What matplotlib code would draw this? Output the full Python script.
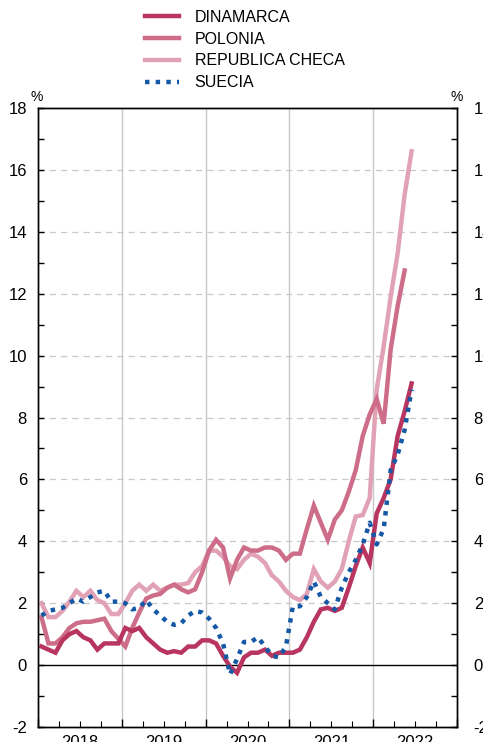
import matplotlib
matplotlib.use("Agg")
import matplotlib.pyplot as plt

plt.rcParams['font.family'] = ['Liberation Sans', 'DejaVu Sans']
plt.rcParams['axes.unicode_minus'] = False

# monthly HICP year-on-year rates, Jan 2018 onwards
years = ['2018', '2019', '2020', '2021', '2022']

dinamarca = [0.6, 0.5, 0.4, 0.8, 1.0, 1.1, 0.9, 0.8, 0.5, 0.7, 0.7, 0.7,
             1.2, 1.1, 1.2, 0.9, 0.7, 0.5, 0.4, 0.45, 0.4, 0.6, 0.6, 0.8,
             0.8, 0.7, 0.3, -0.05, -0.25, 0.25, 0.4, 0.4, 0.5, 0.3, 0.4, 0.4,
             0.4, 0.5, 0.9, 1.4, 1.8, 1.85, 1.75, 1.85, 2.5, 3.2, 3.8, 3.3,
             4.9, 5.4, 6.0, 7.4, 8.2, 9.1]

polonia = [1.55, 0.7, 0.7, 0.9, 1.2, 1.35, 1.4, 1.4, 1.45, 1.5, 1.1, 0.85,
           0.6, 1.2, 1.7, 2.15, 2.25, 2.3, 2.5, 2.6, 2.45, 2.35, 2.45, 3.0,
           3.7, 4.05, 3.8, 2.8, 3.4, 3.8, 3.7, 3.7, 3.8, 3.8, 3.7, 3.4,
           3.6, 3.6, 4.4, 5.15, 4.6, 4.05, 4.7, 5.0, 5.6, 6.3, 7.4, 8.1,
           8.6, 7.8, 10.2, 11.6, 12.75]

rep_checa = [2.0, 1.55, 1.55, 1.75, 2.05, 2.4, 2.2, 2.4, 2.1, 2.0, 1.65, 1.65,
             2.0, 2.4, 2.6, 2.4, 2.6, 2.4, 2.5, 2.6, 2.6, 2.65, 3.0, 3.2,
             3.7, 3.7, 3.5, 3.2, 3.1, 3.4, 3.6, 3.5, 3.3, 2.9, 2.7, 2.4,
             2.2, 2.1, 2.3, 3.1, 2.7, 2.5, 2.7, 3.1, 4.0, 4.8, 4.85, 5.4,
             8.9, 10.3, 11.9, 13.3, 15.2, 16.6]

suecia = [1.6, 1.75, 1.8, 1.85, 2.0, 2.15, 2.05, 2.2, 2.35, 2.4, 2.05, 2.05,
          2.0, 1.8, 1.85, 2.1, 1.8, 1.6, 1.4, 1.3, 1.35, 1.6, 1.75, 1.7,
          1.5, 1.2, 0.7, -0.3, 0.2, 0.75, 0.75, 0.9, 0.6, 0.3, 0.25, 0.6,
          1.9, 1.9, 2.2, 2.7, 2.2, 2.0, 1.8, 2.5, 3.0, 3.4, 3.9, 4.6,
          3.9, 4.4, 6.3, 6.8, 7.6, 8.9]

c_dk = '#b8355f'
c_pl = '#cd6d8a'
c_cz = '#e2a2b6'
c_se = '#1558a6'

fig = plt.figure(figsize=(4.83, 7.42), dpi=100)
ax = fig.add_axes([38 / 483, 15 / 742, 419 / 483, 619 / 742])

def xs(vals):
    return [i + 0.5 for i in range(len(vals))]

ax.axhline(0, color='black', lw=1.0, zorder=2)
l_cz, = ax.plot(xs(rep_checa), rep_checa, color=c_cz, lw=3.2, zorder=3, solid_joinstyle='miter')
l_pl, = ax.plot(xs(polonia), polonia, color=c_pl, lw=3.2, zorder=4, solid_joinstyle='miter')
l_dk, = ax.plot(xs(dinamarca), dinamarca, color=c_dk, lw=3.2, zorder=5, solid_joinstyle='miter')
l_se, = ax.plot(xs(suecia), suecia, color=c_se, lw=3.2, ls=(0, (1, 1.4)), zorder=6)

ax.set_xlim(0, 60)
ax.set_ylim(-2, 18)

# grid
for v in range(2, 18, 2):
    ax.axhline(v, color='#c8c8c8', lw=0.9, ls=(0, (5, 4)), zorder=1)
for k in range(12, 60, 12):
    ax.axvline(k, color='#c8c8c8', lw=1.0, zorder=1)

# x ticks
ax.set_xticks(range(0, 61, 12))
ax.set_xticklabels([])
ax.set_xticks(range(0, 61, 3), minor=True)
ax.set_xticklabels(['' if m % 12 != 6 else years[m // 12] for m in range(0, 61, 3)], minor=True)
ax.tick_params(axis='x', which='major', direction='in', length=6, width=1)
ax.tick_params(axis='x', which='minor', direction='in', length=4, width=0.8, labelsize=12, pad=6)

# y ticks both sides
ax.set_yticks(range(-2, 19, 2))
ax.set_yticks(range(-1, 18, 2), minor=True)
ax.tick_params(axis='y', which='both', direction='in', length=4, width=1, labelsize=12, pad=8)
ax2 = ax.twinx()
ax2.set_ylim(ax.get_ylim())
ax2.set_yticks(range(-2, 19, 2))
ax2.set_yticks(range(-1, 18, 2), minor=True)
ax2.tick_params(axis='y', which='both', direction='in', length=4, width=1, labelsize=12, pad=12)
for a in (ax, ax2):
    for s in a.spines.values():
        s.set_linewidth(1.0)

fig.text(37 / 483, 1 - 104 / 742, '%', ha='center', va='bottom', fontsize=10)
fig.text(457 / 483, 1 - 104 / 742, '%', ha='center', va='bottom', fontsize=10)

fig.legend([l_dk, l_pl, l_cz, l_se],
           ['DINAMARCA', 'POLONIA', 'REPUBLICA CHECA', 'SUECIA'],
           loc='upper left', bbox_to_anchor=(145 / 483, 1 - 10 / 742),
           frameon=False, fontsize=11.5, handlelength=2.1, handletextpad=1.0,
           labelspacing=0.42, borderpad=0, borderaxespad=0)

fig.savefig('out.png', dpi=100)
